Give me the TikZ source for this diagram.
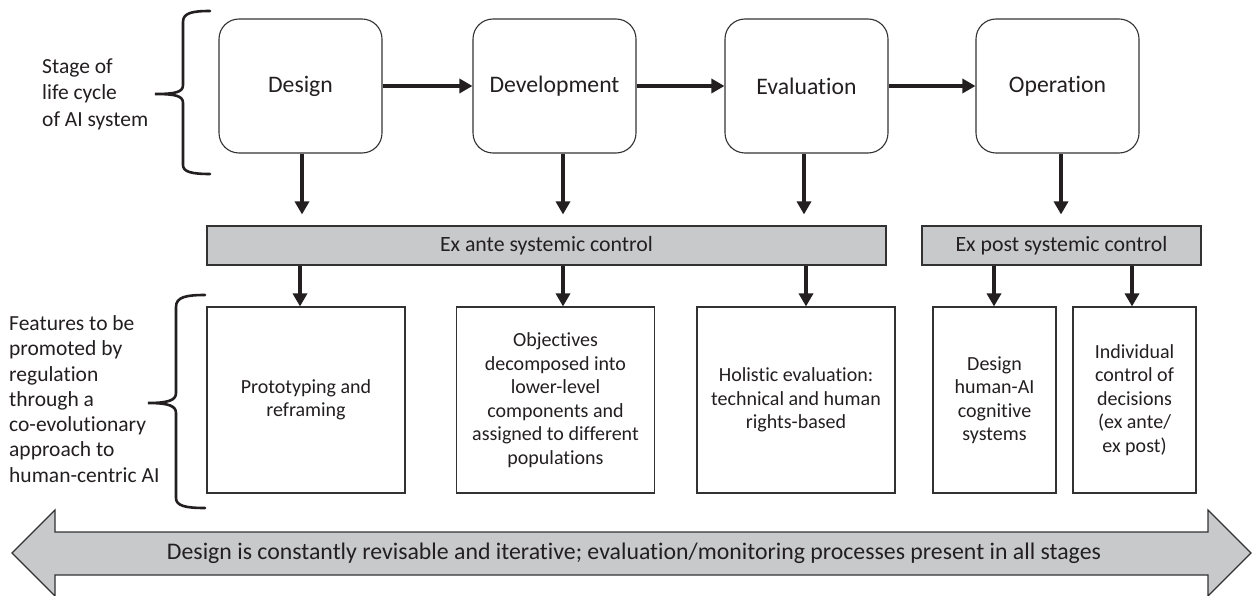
\documentclass[tikz,border=0pt]{standalone}
\usepackage{fontspec}
\setmainfont{Carlito}[Ligatures=NoCommon]
\usetikzlibrary{arrows.meta}
\definecolor{barfill}{RGB}{200,201,203}
\definecolor{edge}{RGB}{50,50,50}
\definecolor{ink}{RGB}{35,31,32}
\begin{document}
\begin{tikzpicture}[x=1pt,y=-1pt,
  txt/.style={text=ink},
  stagebox/.style={draw=edge, line width=1.1pt, rounded corners=20pt, minimum width=163pt, minimum height=134pt, txt, font=\fontsize{23.7}{26}\selectfont},
  barbox/.style={draw=edge, line width=1.1pt, fill=barfill, minimum height=39pt, txt, font=\fontsize{21.8}{24}\selectfont},
  featbox/.style={draw=edge, line width=1.1pt, minimum height=186pt, align=center, txt, inner sep=2pt, font=\fontsize{20}{23.5}\selectfont},
  arr/.style={draw=ink, line width=4.5pt, -{Triangle[length=13pt,width=14pt]}},
  bracestyle/.style={draw=ink, line width=2.6pt, line cap=round},
  sidetxt/.style={txt, align=left, inner sep=0pt, anchor=west}
]
\useasboundingbox (0,0) rectangle (1252,596);

% stage boxes
\node[stagebox] (design) at (300.5,86) {Design};
\node[stagebox] (dev) at (554.5,86) {Development};
\node[stagebox] (eval) at (806.5,86) {Evaluation};
\node[stagebox] (oper) at (1057.5,86) {Operation};

\draw[arr] (design) -- (dev);
\draw[arr] (dev) -- (eval);
\draw[arr] (eval) -- (oper);

% control bars
\node[barbox, minimum width=679pt] (exante) at (546.5,245.5) {Ex ante systemic control};
\node[barbox, minimum width=279pt] (expost) at (1061.5,245.5) {Ex post systemic control};

% feature boxes
\node[featbox, minimum width=198pt] (proto) at (306,400) {Prototyping and\\reframing};
\node[featbox, minimum width=198pt] (obj) at (555.5,400) {Objectives\\decomposed into\\lower-level\\components and\\assigned to different\\populations};
\node[featbox, minimum width=198pt] (holi) at (796,400) {Holistic evaluation:\\technical and human\\rights-based};
\node[featbox, minimum width=123pt] (hai) at (994.5,400) {Design\\human-AI\\cognitive\\systems};
\node[featbox, minimum width=123pt] (indiv) at (1134.5,400) {Individual\\control of\\decisions\\(ex ante/\\ex post)};

% arrow x positions
\coordinate (a1) at (302,0);
\coordinate (a2) at (563,0);
\coordinate (a3) at (804,0);
\coordinate (a4) at (1061,0);
\coordinate (b1) at (300,0);
\coordinate (b2) at (563,0);
\coordinate (b3) at (806,0);
\coordinate (b4) at (994,0);
\coordinate (b5) at (1132,0);

\draw[arr, shorten >=11pt] (design.south -| a1) -- (exante.north -| a1);
\draw[arr, shorten >=11pt] (dev.south -| a2) -- (exante.north -| a2);
\draw[arr, shorten >=11pt] (eval.south -| a3) -- (exante.north -| a3);
\draw[arr, shorten >=11pt] (oper.south -| a4) -- (expost.north -| a4);

\draw[arr] (exante.south -| b1) -- (proto.north -| b1);
\draw[arr] (exante.south -| b2) -- (obj.north -| b2);
\draw[arr] (exante.south -| b3) -- (holi.north -| b3);
\draw[arr] (expost.south -| b4) -- (hai.north -| b4);
\draw[arr] (expost.south -| b5) -- (indiv.north -| b5);

% side labels and braces
\node[sidetxt, font=\fontsize{21.5}{26.5}\selectfont] (stagelbl) at (42,94) {Stage of\\life cycle\\of AI system};
\draw[bracestyle] (210,11) .. controls (192,11) and (183,13) .. (183,22) -- (183,85)
  .. controls (183,92) and (176,94) .. (155,94)
  .. controls (176,94) and (183,96) .. (183,103) -- (183,165)
  .. controls (183,172) and (192,174) .. (210,174);

\node[sidetxt, font=\fontsize{21.5}{25.3}\selectfont] (featlbl) at (9,399) {Features to be\\promoted by\\regulation\\through a\\co-evolutionary\\approach to\\human-centric AI};
\draw[bracestyle] (205,295) .. controls (186,295) and (176,297) .. (176,307) -- (176,393)
  .. controls (176,400) and (169,403) .. (148,403)
  .. controls (169,403) and (176,406) .. (176,413) -- (176,498)
  .. controls (176,506) and (186,508) .. (205,508);

% bottom double arrow
\draw[draw=edge, line width=1.1pt, fill=barfill, line join=miter]
  (12,553) -- (55,510) -- (55,532) -- (1208,532) -- (1208,510) -- (1251,553)
  -- (1208,596) -- (1208,575) -- (55,575) -- (55,596) -- cycle;
\node[txt, font=\fontsize{23.8}{26}\selectfont] (iter) at (634,553) {Design is constantly revisable and iterative; evaluation/monitoring processes present in all stages};
\end{tikzpicture}
\end{document}
